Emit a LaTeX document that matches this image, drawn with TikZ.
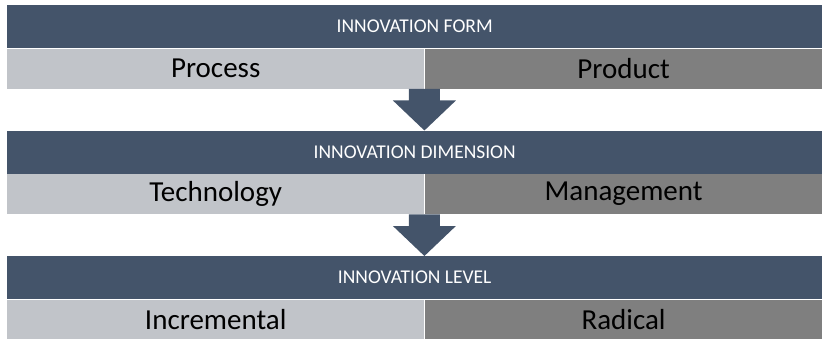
\documentclass[tikz,border=0pt]{standalone}
\usepackage{fontspec}
\setmainfont{Carlito}
\usetikzlibrary{calc}

\definecolor{slate}{HTML}{44546A}
\definecolor{lightcell}{HTML}{C1C4C9}
\definecolor{darkcell}{HTML}{7F7F7F}

\tikzset{
    headbar/.style={fill=slate, text=white, font=\fontsize{19.5}{19.5}\selectfont,
        minimum width=815pt, minimum height=43pt, inner sep=0pt, anchor=north west},
    cell/.style={minimum height=40pt, inner sep=0pt, anchor=north west,
        text=black, font=\fontsize{29}{29}\selectfont},
    leftcell/.style={cell, fill=lightcell, minimum width=417pt},
    rightcell/.style={cell, fill=darkcell, minimum width=398pt},
    downarrow/.style={fill=slate}
}

\begin{document}
\begin{tikzpicture}[x=1pt, y=1pt]
    \useasboundingbox (0,0) rectangle (822,338);
    \begin{scope}[shift={(0,0)}]
        \node[headbar] (form) at (7,333) {INNOVATION FORM};
        \node[leftcell] (form-l) at (form.south west) {Process};
        \node[rightcell] (form-r) at (form-l.north east) {Product};
    \end{scope}
    \begin{scope}[shift={(0,-125.5)}]
        \node[headbar] (dim) at (7,333) {INNOVATION DIMENSION};
        \node[leftcell] (dim-l) at (dim.south west) {Technology};
        \node[rightcell] (dim-r) at (dim-l.north east) {Management};
    \end{scope}
    \begin{scope}[shift={(0,-251)}]
        \node[headbar] (level) at (7,333) {INNOVATION LEVEL};
        \node[leftcell] (level-l) at (level.south west) {Incremental};
        \node[rightcell] (level-r) at (level-l.north east) {Radical};
    \end{scope}
    % block arrows between the levels
    \foreach \from/\to in {form-l/dim, dim-l/level}{
        \coordinate (top) at (\from.south east);
        \coordinate (tip) at (top |- \to.north);
        \fill[downarrow] ($(top)+(-15.5,0)$) -- ($(top)+(15.5,0)$)
            -- ($(tip)+(15.5,30)$) -- ($(tip)+(31.5,30)$) -- (tip)
            -- ($(tip)+(-31.5,30)$) -- ($(tip)+(-15.5,30)$) -- cycle;
    }
\end{tikzpicture}
\end{document}
